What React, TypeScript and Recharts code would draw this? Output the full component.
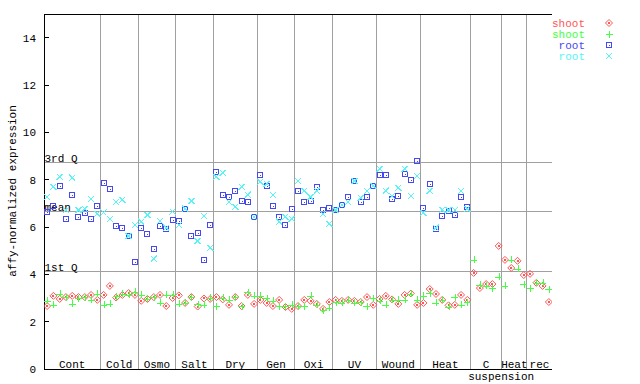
import React from 'react';
import {
  ScatterChart, Scatter, XAxis, YAxis, ReferenceLine, Customized,
} from 'recharts';

const groups = ['Cont', 'Cold', 'Osmo', 'Salt', 'Dry', 'Gen', 'Oxi', 'UV', 'Wound', 'Heat', 'C', 'Heat', 'rec'];
const groupSizes = [9, 6, 6, 6, 7, 6, 6, 7, 7, 8, 5, 4, 4];
const yTicks = [0, 2, 4, 6, 8, 10, 12, 14];

// shoot, replicate 1 (red diamonds)
const shoot1 = [
  2.66, 3.09, 2.96, 3.04, 3.09, 3.04, 3.04, 3.13, 2.92,
  3.13, 3.51, 3.02, 3.13, 3.21, 3.13,
  2.88, 2.96, 3.04, 3.13, 2.66, 3.0,
  3.11, 2.79, 3.04, 2.64, 2.98, 2.96,
  3.04, 2.94, 2.71, 3.04, 2.66, 3.13, 2.75,
  2.92, 2.79, 2.66, 2.92, 2.62, 2.54,
  2.66, 2.92, 2.88, 2.75, 2.54, 2.83,
  2.92, 2.88, 2.92, 2.88, 2.83, 3.04, 2.71,
  2.96, 3.09, 2.94, 2.75, 3.13, 3.19, 2.71,
  2.79, 3.38, 3.17, 2.92, 2.69, 2.71, 3.13, 2.92,
  4.06, 3.42, 3.59, 3.59, 5.2,
  4.61, 4.27, 4.57, 3.97,
  4.02, 3.64, 3.51, 2.83,
];
// shoot, replicate 2 (green plus)
const shoot2 = [
  2.88, 2.71, 3.17, 3.04, 2.75, 3.0, 3.04, 2.92, 3.17,
  2.71, 2.75, 3.07, 3.17, 3.13, 3.26,
  3.13, 2.96, 3.04, 2.79, 3.13, 3.13,
  2.75, 2.79, 3.04, 2.73, 2.71, 3.02,
  2.66, 3.02, 2.92, 3.04, 2.66, 3.24, 3.09,
  3.09, 3.0, 2.88, 2.66, 2.66, 2.71,
  2.66, 2.66, 3.09, 2.71, 2.49, 2.58,
  2.83, 2.79, 2.92, 2.79, 2.83, 2.66, 3.0,
  2.88, 2.71, 2.92, 2.92, 2.92, 3.17, 2.92,
  3.09, 3.21, 2.79, 2.92, 2.62, 3.04, 2.71, 2.83,
  4.61, 3.55, 3.51, 3.42, 3.89,
  3.51, 4.61, 4.23, 3.59,
  3.42, 3.64, 3.64, 3.38,
];
// root, replicate 1 (blue squares)
const root1 = [
  6.64, 6.88, 7.74, 6.34, 7.36, 6.43, 6.6, 6.34, 6.89,
  7.86, 7.61, 6.05, 5.96, 5.62, 4.52,
  5.96, 5.71, 5.09, 6.05, 5.92, 6.3,
  6.26, 6.77, 5.62, 5.75, 4.61, 6.09,
  8.31, 7.36, 7.27, 7.53, 7.1, 7.06, 6.43,
  8.2, 7.74, 6.89, 6.43, 6.09, 6.77,
  7.53, 7.06, 7.1, 7.7, 6.72, 6.81,
  6.72, 6.93, 7.27, 7.95, 7.06, 7.27, 7.74,
  8.2, 8.2, 7.19, 7.31, 8.25, 7.99, 8.8,
  6.81, 7.82, 5.92, 6.47, 6.68, 6.51, 7.27, 6.85,
];
// root, replicate 2 (cyan x)
const root2 = [
  7.27, 7.7, 8.12, 6.72, 8.08, 6.72, 6.77, 7.19, 6.55,
  6.62, 6.34, 7.06, 7.15, 5.62, 6.09,
  6.22, 6.51, 4.66, 6.26, 5.97, 6.65,
  6.09, 6.77, 7.1, 5.41, 6.47, 5.12,
  8.12, 8.29, 7.06, 6.85, 7.7, 7.36, 6.43,
  7.91, 7.82, 7.36, 6.22, 6.43, 6.34,
  7.95, 7.53, 7.27, 7.53, 6.55, 6.13,
  6.72, 6.93, 7.06, 7.95, 7.23, 7.53, 7.74,
  8.46, 7.53, 7.31, 7.65, 8.46, 7.31, 8.16,
  6.6, 7.53, 5.97, 6.72, 6.72, 6.72, 7.53, 6.77,
];

const quartiles = { q1: 4.1, mean: 6.65, q3: 8.71 };

const RED = '#ff5555';
const GREEN = '#44ff44';
const BLUE = '#4848f0';
const CYAN = '#55f5f5';
const GRID = '#a0a0a0';
const FONT = '"Liberation Mono", "DejaVu Sans Mono", monospace';

const total = groupSizes.reduce((a, b) => a + b, 0);
const bounds: number[] = [];
const centers: number[] = [];
groupSizes.reduce((start, n) => {
  centers.push(start + n / 2);
  bounds.push(start + n);
  return start + n;
}, 0);

const toPoints = (vals: number[]) => vals.map((v, i) => ({ x: i + 0.5, y: v }));

// markers roughly like gnuplot's bitmap point types
const Diamond = ({ cx, cy, color }: any) => (
  <g>
    <polygon points={`${cx},${cy - 3.5} ${cx + 3.5},${cy} ${cx},${cy + 3.5} ${cx - 3.5},${cy}`} fill="none" stroke={color} strokeWidth={1} />
    <rect x={cx - 1} y={cy - 1} width={2} height={2} fill={color} />
  </g>
);
const Plus = ({ cx, cy, color }: any) => (
  <g stroke={color} strokeWidth={1}>
    <line x1={cx - 3.5} x2={cx + 3.5} y1={Math.round(cy) + 0.5} y2={Math.round(cy) + 0.5} />
    <line x1={Math.round(cx) + 0.5} x2={Math.round(cx) + 0.5} y1={cy - 3.5} y2={cy + 3.5} />
  </g>
);
const Box = ({ cx, cy, color }: any) => {
  const x = Math.round(cx) - 2.5;
  const y = Math.round(cy) - 2.5;
  return (
    <g>
      <rect x={x} y={y} width={5} height={5} fill="none" stroke={color} strokeWidth={1} />
      <rect x={x + 2} y={y + 2} width={1} height={1} fill={color} />
    </g>
  );
};
const Cross = ({ cx, cy, color }: any) => (
  <g stroke={color} strokeWidth={1}>
    <line x1={cx - 3} x2={cx + 3} y1={cy - 3} y2={cy + 3} />
    <line x1={cx - 3} x2={cx + 3} y1={cy + 3} y2={cy - 3} />
  </g>
);

const LeftTick = ({ x, y, payload }: any) => (
  <g>
    <line x1={x} x2={x + 5} y1={y} y2={y} stroke="#000" />
    <text x={x - 8} y={y + 4} textAnchor="end" fontSize={11} fontFamily={FONT} fill="#000">{payload.value}</text>
  </g>
);
const RightTick = ({ x, y }: any) => (
  <line x1={x - 6} x2={x} y1={y} y2={y} stroke="#000" />
);
const GroupTick = ({ x, y, index }: any) => (
  <g fontSize={11} fontFamily={FONT} fill="#000">
    <text x={x} y={y - 1.5} textAnchor="middle">{groups[index]}</text>
    {groups[index] === 'C' && (
      <text x={x - 18} y={y + 11} textAnchor="start">suspension</text>
    )}
  </g>
);
const QLabel = ({ viewBox, text }: any) => (
  <text x={viewBox.x + 0.5} y={viewBox.y - 1} fontSize={11} fontFamily={FONT} fill="#000">{text}</text>
);

const legendRows = [
  { name: 'shoot', color: RED, Shape: Diamond },
  { name: 'shoot', color: GREEN, Shape: Plus },
  { name: 'root', color: BLUE, Shape: Box },
  { name: 'root', color: CYAN, Shape: Cross },
];

const Extras = () => (
  <g fontSize={11} fontFamily={FONT}>
    <text x={15.5} y={191} transform="rotate(-90 15.5 191)" textAnchor="middle" fill="#000">
      affy-normalized expression
    </text>
    {legendRows.map((r, i) => (
      <g key={i}>
        <text x={585} y={26.5 + i * 11} textAnchor="end" fill={r.color}>{r.name}</text>
        <r.Shape cx={609} cy={23 + i * 11} color={r.color} />
      </g>
    ))}
  </g>
);

export default function App() {
  return (
    <div style={{ position: 'absolute', left: 0, top: 0, width: 640, height: 384, background: '#fff' }}>
      <style>{'svg line, svg rect { shape-rendering: crispEdges; }'}</style>
      <ScatterChart width={640} height={384} margin={{ top: 14, right: 88, bottom: 0, left: 0 }}>
        <XAxis
          type="number" dataKey="x" domain={[0, total]} ticks={centers} interval={0}
          height={15} tickSize={0} tickMargin={0} tickLine={false}
          axisLine={{ stroke: '#000' }} tick={<GroupTick />} allowDataOverflow
        />
        <YAxis
          type="number" dataKey="y" domain={[0, 15]} ticks={yTicks} interval={0}
          width={44} tickSize={0} tickMargin={0} tickLine={false}
          axisLine={{ stroke: '#000' }} tick={<LeftTick />} allowDataOverflow
        />
        <YAxis
          yAxisId="right" orientation="right" type="number" domain={[0, 15]} ticks={yTicks} interval={0}
          width={0} tickSize={0} tickMargin={0} tickLine={false}
          axisLine={{ stroke: '#000' }} tick={<RightTick />}
        />
        {bounds.slice(0, -1).map((b) => (
          <ReferenceLine key={b} x={b} stroke={GRID} strokeWidth={1} />
        ))}
        <ReferenceLine y={quartiles.q3} stroke={GRID} label={<QLabel text="3rd Q" />} />
        <ReferenceLine y={quartiles.mean} stroke={GRID} label={<QLabel text="mean" />} />
        <ReferenceLine y={quartiles.q1} stroke={GRID} label={<QLabel text="1st Q" />} />
        <ReferenceLine y={15} stroke="#000" />
        <Scatter data={toPoints(shoot1)} isAnimationActive={false} shape={(p: any) => <Diamond cx={p.cx} cy={p.cy} color={RED} />} />
        <Scatter data={toPoints(shoot2)} isAnimationActive={false} shape={(p: any) => <Plus cx={p.cx} cy={p.cy} color={GREEN} />} />
        <Scatter data={toPoints(root1)} isAnimationActive={false} shape={(p: any) => <Box cx={p.cx} cy={p.cy} color={BLUE} />} />
        <Scatter data={toPoints(root2)} isAnimationActive={false} shape={(p: any) => <Cross cx={p.cx} cy={p.cy} color={CYAN} />} />
        <Customized component={Extras} />
      </ScatterChart>
    </div>
  );
}
